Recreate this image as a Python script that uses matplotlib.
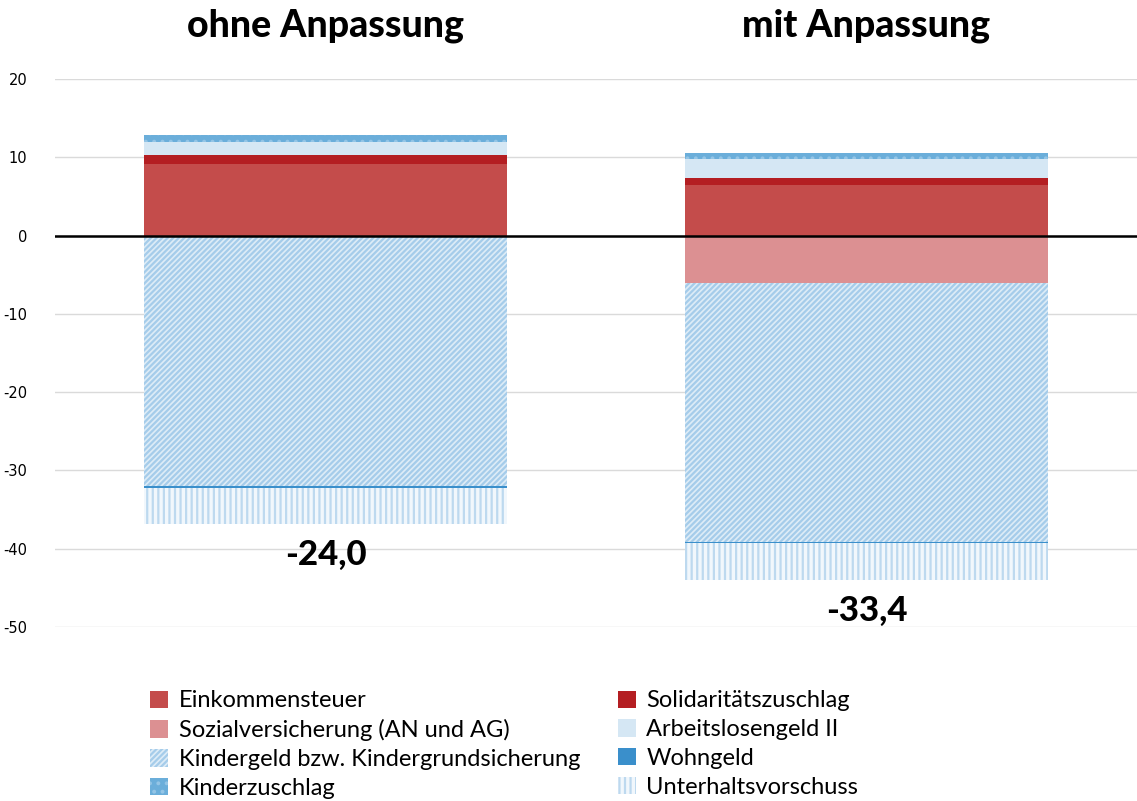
import matplotlib
matplotlib.use("Agg")
import matplotlib.pyplot as plt
import numpy as np

# --- data --------------------------------------------------------------
scenarios = ["ohne Anpassung", "mit Anpassung"]
series = [
    "Einkommensteuer",
    "Solidaritätszuschlag",
    "Sozialversicherung (AN und AG)",
    "Arbeitslosengeld II",
    "Kindergeld bzw. Kindergrundsicherung",
    "Wohngeld",
    "Kinderzuschlag",
    "Unterhaltsvorschuss",
]
einkommensteuer = [9.2, 6.5]
soli = [1.1, 0.9]
sozialversicherung = [0.0, -6.1]
alg2 = [1.7, 2.4]
kindergeld = [-32.0, -33.0]
wohngeld = [-0.2, -0.2]
kinderzuschlag = [0.9, 0.8]
unterhalt = [-4.7, -4.7]
net_labels = ["-24,0", "-33,4"]
yticks = [20, 10, 0, -10, -20, -30, -40, -50]

values = [einkommensteuer, soli, sozialversicherung, alg2,
          kindergeld, wohngeld, kinderzuschlag, unterhalt]

# style per series: facecolor, hatch, hatch colour
styles = [
    ("#C44C4B", None, None),
    ("#B41E22", None, None),
    ("#DC9092", None, None),
    ("#D5E7F4", None, None),
    ("#DDECF7", "//////", "#A5CCEA"),
    ("#3A8FCB", None, None),
    ("#6BAEDA", "..", "#94C5E6"),
    ("#F1F7FC", "|||", "#BDD9EF"),
]

plt.rcParams["hatch.linewidth"] = 1.6

fig = plt.figure(figsize=(11.37, 8.01), dpi=100)
ax = fig.add_axes([55 / 1137, (801 - 627) / 801, 1 - 55 / 1137, (627 - 79) / 801])

x = np.arange(len(scenarios))
width = 0.67
pos_base = np.zeros(len(scenarios))
neg_base = np.zeros(len(scenarios))
handles = []
for name, vals, (fc, hatch, hc) in zip(series, values, styles):
    vals = np.array(vals)
    bottom = np.where(vals >= 0, pos_base, neg_base)
    bars = ax.bar(x, vals, width, bottom=bottom, color=fc, hatch=hatch,
                  edgecolor=hc if hc else fc, linewidth=0, label=name, zorder=2)
    handles.append(bars)
    pos_base = pos_base + np.clip(vals, 0, None)
    neg_base = neg_base + np.clip(vals, None, 0)

# net totals below each bar
for xi, bot, lab in zip(x, neg_base, net_labels):
    ax.text(xi, bot - 3.9, lab, ha="center", va="center",
            fontsize=25, fontweight=900, family="Lato")

for xi, title in zip(x, scenarios):
    ax.text(xi, 26.8, title, ha="center", va="center",
            fontsize=27, fontweight=900, family="Lato")

ax.set_xlim(-0.5, 1.5)
ax.set_ylim(-50, 20)
ax.set_yticks(yticks)
ax.set_yticklabels([str(t) for t in yticks], fontsize=10.5, family="DejaVu Sans")
ax.tick_params(axis="y", length=0, pad=20)
ax.set_xticks([])
ax.grid(axis="y", color="#DADADA", lw=1, zorder=0)
ax.axhline(0, color="black", lw=1.8, zorder=3)
for s in ax.spines.values():
    s.set_visible(False)

# legend: two columns, filled row-wise like the reference
order = [0, 2, 4, 6, 1, 3, 5, 7]
fig.legend([handles[i] for i in order], [series[i] for i in order],
           ncol=2, loc="upper left", bbox_to_anchor=(141 / 1137, 1 - 681 / 801),
           frameon=False, prop={"family": "Lato", "size": 17},
           handlelength=0.75, handleheight=0.75, handletextpad=0.45,
           labelspacing=0.33, columnspacing=1.6, borderaxespad=0)

fig.savefig("out.png", dpi=100)
